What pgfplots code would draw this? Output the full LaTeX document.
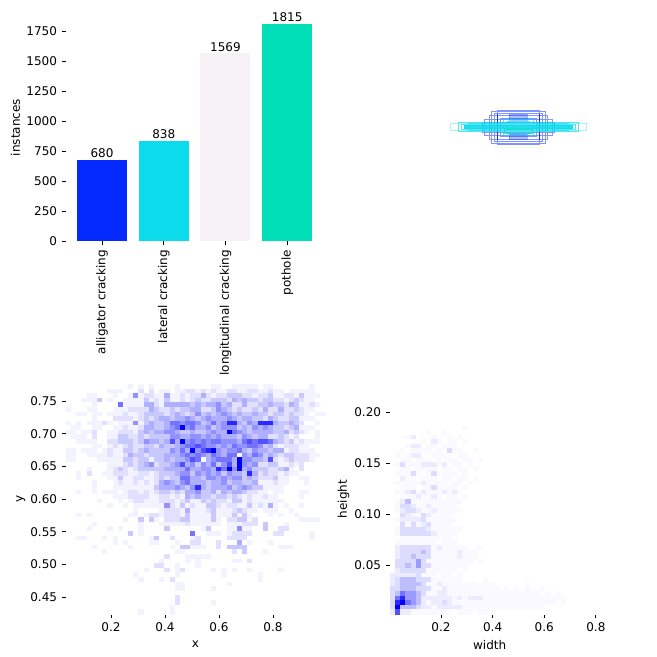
\documentclass[border=0pt]{standalone}
\usepackage{fontspec}
\setmainfont{DejaVu Sans}
\usepackage{pgfplots}
\usepackage{pgfplotstable}
\pgfplotsset{compat=1.18}

\definecolor{cA}{HTML}{042AFF}
\definecolor{cB}{HTML}{0BDBEB}
\definecolor{cC}{HTML}{F5F1F5}
\definecolor{cD}{HTML}{00DFB7}

\pgfplotsset{
  colormap={blues}{rgb255=(255,255,255) rgb255=(243,242,255) rgb255=(225,225,255)
    rgb255=(200,200,255) rgb255=(175,175,255) rgb255=(145,145,255) rgb255=(115,115,255)
    rgb255=(80,80,255) rgb255=(40,40,255) rgb255=(0,0,245)},
  colormap={paleblues}{rgb255=(255,255,255) rgb255=(250,249,255) rgb255=(237,236,255)
    rgb255=(220,220,255) rgb255=(190,190,255) rgb255=(155,155,255) rgb255=(115,115,255)
    rgb255=(80,80,255) rgb255=(40,40,255) rgb255=(0,0,245)},
  despined/.style={
    scale only axis,
    axis line style={draw=none},
    tick align=outside,
    xtick pos=bottom, ytick pos=left,
    major tick length=3.2pt,
    tick style={black, line width=0.7pt},
    every tick label/.append style={font=\fontsize{9}{11}\selectfont},
    label style={font=\fontsize{9}{11}\selectfont},
    /pgf/number format/assume math mode=true,
  },
  heat/.style={
    scatter, only marks, mark=square*, mark size=1.97pt,
    mark options={yscale=0.89},
    scatter/use mapped color={draw=mapped color, fill=mapped color, line width=0.05pt},
    point meta=explicit, point meta min=0, point meta max=9,
  },
}

% x,y histogram, rows top to bottom, 50 bins each way
\pgfplotstableread[header=false]{
0 0 0 0 0 0 0 0 0 0 0 0 1 0 1 0 1 0 0 0 0 1 0 0 0 0 0 0 1 1 0 0 1 1 1 1 1 0 1 1 0 0 0 0 0 0 0 1 0 0
0 0 0 0 0 0 0 0 1 1 1 0 0 0 2 0 2 0 1 1 0 1 1 2 2 1 2 1 2 1 1 2 2 1 1 2 2 1 1 2 1 1 0 1 1 1 1 1 0 0
0 0 0 0 1 1 0 0 0 1 0 0 1 5 1 2 2 1 1 4 1 1 2 1 2 2 4 2 1 2 2 3 3 3 2 2 1 2 2 3 1 1 2 2 1 3 1 1 1 0
0 0 0 1 1 1 3 0 1 0 0 1 1 1 1 3 1 2 1 3 1 1 2 1 2 3 2 2 3 3 3 2 4 3 4 3 3 2 3 3 2 2 1 2 3 2 1 1 0 0
0 0 0 0 0 1 0 0 0 0 6 1 1 1 1 4 4 2 1 4 4 4 4 4 3 4 3 4 4 5 3 4 2 2 4 2 2 3 3 4 3 3 2 4 3 1 1 2 1 0
1 0 0 0 1 1 0 0 0 1 1 1 2 2 2 2 4 3 2 2 3 2 3 3 4 4 2 2 3 5 4 3 2 3 2 2 3 2 4 2 2 4 2 2 3 2 1 1 0 0
0 0 1 1 0 1 1 0 1 1 1 2 1 1 2 3 3 3 3 2 3 4 3 2 3 5 3 4 3 4 5 4 3 4 3 3 4 3 3 2 3 3 2 3 2 2 1 0 1 1
0 0 0 0 0 1 0 0 0 2 2 2 2 1 2 3 2 3 4 4 3 4 4 5 4 3 4 5 4 4 4 5 4 3 4 4 3 3 2 4 3 2 2 3 3 1 1 1 0 0
1 0 1 0 1 1 1 2 1 0 1 1 1 5 1 3 4 3 3 4 6 6 5 6 6 5 3 4 6 4 5 8 8 4 3 5 4 8 8 8 4 3 3 4 3 2 0 0 1 0
0 1 1 0 0 1 1 0 0 1 1 2 1 1 2 4 4 3 3 4 5 6 9 5 6 4 4 5 3 4 5 5 5 3 4 3 5 4 5 4 3 3 2 3 4 1 1 1 0 0
1 1 0 1 1 2 0 0 1 1 2 2 2 1 3 4 3 4 4 5 5 4 3 3 4 3 3 4 5 4 4 9 6 5 4 3 4 4 4 4 3 3 4 2 3 2 1 0 1 0
0 1 1 1 0 2 0 0 1 1 3 3 2 2 3 2 3 3 3 3 5 5 4 4 5 5 4 5 4 5 4 4 4 3 5 4 3 4 4 2 2 3 2 1 2 0 0 0 1 0
0 0 1 1 1 1 0 0 2 2 3 3 3 2 3 5 4 4 3 4 7 4 9 5 6 5 6 5 6 6 5 5 5 4 6 7 6 7 7 6 4 3 2 3 1 2 1 1 1 0
0 0 0 0 0 1 1 0 1 2 1 2 3 2 2 3 3 2 4 3 3 4 5 6 6 7 6 5 5 4 5 4 6 5 5 6 6 5 3 4 2 1 2 2 2 1 1 0 0 0
1 1 0 1 1 1 0 1 2 1 1 3 3 2 3 4 3 3 3 3 5 4 6 4 9 5 7 8 9 5 4 5 5 6 4 3 5 4 4 3 4 4 1 2 2 1 1 1 0 0
1 1 0 0 1 1 1 1 2 1 1 2 4 3 3 2 3 3 3 4 4 4 5 6 5 6 5 4 6 5 4 6 6 0 5 4 6 5 3 4 3 2 3 3 2 2 2 1 1 0
1 1 0 0 0 0 1 1 1 1 1 3 3 2 3 3 1 3 3 4 3 4 4 5 7 6 0 4 5 6 6 6 4 9 5 5 4 4 3 7 2 1 2 3 2 2 2 1 0 0
0 0 0 0 0 0 0 0 1 1 1 2 3 2 3 4 5 2 3 3 4 5 7 4 5 3 5 4 6 3 5 7 4 9 5 4 5 2 2 3 3 1 1 2 1 2 0 0 0 0
0 0 0 0 1 0 0 0 1 2 3 2 1 2 3 3 3 3 3 4 4 4 4 6 4 4 5 5 4 8 6 9 5 9 4 5 3 3 3 2 2 3 4 1 0 2 0 0 0 0
0 0 1 0 2 0 0 1 1 2 2 2 1 1 2 2 1 2 3 3 3 4 5 5 3 5 4 5 4 5 3 5 4 4 3 8 4 2 3 2 2 1 2 1 1 0 0 0 0 0
0 0 1 0 0 0 0 0 1 1 3 1 1 2 2 1 1 2 3 2 3 3 6 6 4 4 3 5 5 4 5 4 5 5 3 4 3 2 2 2 3 1 1 0 0 1 1 0 0 0
0 0 0 0 0 1 0 0 0 1 2 1 1 2 1 2 1 2 4 5 4 3 5 6 4 4 4 3 4 4 5 3 4 4 3 3 4 1 1 1 2 1 1 0 0 0 1 0 0 0
0 0 0 0 0 1 0 0 0 1 1 1 1 1 1 1 1 3 4 4 4 5 4 3 5 8 4 3 4 4 4 5 3 4 5 4 3 3 1 1 1 1 0 0 0 0 0 0 0 0
0 0 1 0 0 1 0 1 1 1 0 1 2 2 1 2 1 2 3 3 2 3 2 4 4 5 3 3 4 2 4 3 4 4 3 2 2 1 1 0 1 1 0 0 0 1 1 0 0 0
0 0 0 0 0 0 0 0 0 1 1 1 2 2 2 2 1 1 2 2 1 2 1 4 3 4 3 3 2 3 3 2 3 2 1 2 1 1 2 1 1 0 0 0 0 1 0 0 0 0
0 0 0 0 0 0 1 0 0 0 1 0 1 2 2 1 1 1 2 2 2 1 2 3 1 1 3 2 3 2 2 1 3 3 1 2 1 1 1 1 1 1 0 0 0 0 0 0 0 0
0 0 0 0 0 0 0 0 1 0 0 1 0 1 1 1 1 1 1 5 2 1 3 1 2 1 1 3 3 2 1 2 2 1 1 3 1 2 1 4 1 0 1 0 0 1 0 0 0 0
0 0 0 0 0 0 0 0 0 0 0 0 0 1 0 0 0 0 1 2 2 2 1 4 1 1 1 2 3 1 1 1 2 3 2 1 1 0 1 1 1 0 0 1 0 0 0 0 0 0
0 0 1 0 1 0 0 0 0 0 0 0 1 1 0 1 2 2 1 2 2 2 1 3 1 1 1 1 3 1 1 1 3 1 3 1 0 0 0 1 0 1 0 0 1 0 0 0 0 0
0 0 0 0 0 0 0 0 0 0 0 1 0 0 3 0 3 1 0 2 2 2 3 3 1 1 1 1 3 1 0 2 2 3 3 1 2 0 0 0 0 0 0 0 0 1 1 1 1 0
0 0 0 0 0 1 0 0 0 0 0 0 0 0 1 0 0 0 1 1 1 1 1 2 1 1 1 1 1 1 0 1 1 1 2 2 2 0 3 0 0 0 1 0 0 0 0 0 0 0
0 0 0 0 1 0 0 0 1 0 1 0 0 0 1 0 0 0 0 3 0 0 0 0 0 0 1 3 0 0 0 1 1 5 1 1 0 0 3 0 0 2 2 0 0 0 0 0 0 0
0 0 0 0 0 0 0 0 0 0 0 0 3 0 1 0 0 0 0 0 0 0 0 0 6 0 0 1 1 1 0 1 2 2 2 2 0 0 0 0 2 2 0 0 0 0 0 1 0 0
0 0 1 1 0 0 0 1 0 1 0 0 0 0 0 0 1 3 0 0 2 0 0 0 1 2 0 0 0 0 0 2 2 2 2 0 0 0 0 0 0 0 0 0 0 0 0 1 0 0
0 0 0 0 0 0 0 0 0 1 0 1 0 0 0 0 1 1 0 0 0 1 0 0 2 2 0 0 0 2 0 0 0 4 0 1 0 0 0 1 0 0 0 0 0 0 0 0 0 0
0 0 0 0 0 1 0 0 0 0 0 0 1 0 0 0 0 0 0 0 1 0 3 3 1 1 1 0 0 2 0 3 3 3 3 0 0 0 0 0 0 1 1 1 0 0 0 0 0 0
0 0 0 0 0 0 0 1 0 0 0 0 0 0 0 0 0 0 0 0 0 1 1 0 0 0 0 0 0 0 0 0 2 0 3 0 0 0 1 0 0 0 0 0 0 0 0 0 0 0
0 0 0 0 0 0 0 0 0 0 0 0 0 0 0 0 0 0 0 2 0 0 0 1 1 1 1 1 0 0 0 0 0 0 0 0 0 0 0 0 0 0 0 0 0 0 0 0 0 0
0 0 0 0 0 0 0 0 0 0 0 0 0 0 0 0 0 0 1 0 0 0 0 1 0 1 0 0 0 0 0 0 1 1 0 2 0 0 0 0 0 0 0 0 0 0 0 0 0 0
0 0 0 0 0 0 0 0 0 0 0 0 0 0 0 0 0 2 2 0 0 1 0 0 0 1 0 0 0 0 0 0 0 0 0 0 0 0 0 0 0 0 0 0 0 0 0 0 0 0
0 0 0 0 0 0 0 0 0 0 0 0 0 0 0 1 0 0 0 2 0 1 2 0 0 0 0 0 1 0 1 0 1 0 0 1 0 0 0 0 0 1 0 0 0 0 0 0 0 0
0 0 0 0 0 0 0 0 0 0 0 0 0 1 0 0 0 0 0 0 0 1 0 0 0 0 0 0 0 0 1 0 0 0 0 0 0 1 0 0 0 0 0 0 0 0 0 0 0 0
0 0 0 0 0 0 0 0 0 0 0 0 0 0 1 0 0 0 1 0 2 0 0 0 0 0 0 0 0 0 0 0 0 0 0 0 0 1 0 0 0 0 0 0 0 0 0 0 0 0
0 0 0 0 0 0 0 0 0 0 0 0 0 0 0 0 0 0 0 0 0 1 1 0 0 0 0 0 0 0 0 1 0 0 0 0 0 0 0 0 0 0 0 0 0 0 0 0 0 0
0 0 0 0 0 0 0 0 0 0 0 0 0 0 0 0 0 0 0 0 0 1 1 0 0 0 0 0 1 0 0 0 0 0 0 0 0 0 0 0 0 0 0 0 0 0 0 0 0 0
0 0 0 0 0 0 0 0 0 0 0 0 0 0 0 0 0 0 0 0 0 0 0 0 0 0 0 0 0 0 0 0 0 0 0 0 0 0 0 0 0 0 0 0 0 0 0 0 0 0
0 0 0 0 0 0 0 0 0 0 0 0 0 0 0 0 0 0 0 0 0 2 0 0 0 0 0 0 0 0 0 0 0 0 0 0 0 0 0 0 0 0 0 0 0 0 0 0 0 0
0 0 0 0 0 0 0 0 0 0 0 0 0 0 0 0 0 0 0 0 0 2 0 0 0 0 0 0 1 0 0 0 0 0 0 0 0 0 0 0 0 0 0 0 0 0 0 0 0 0
0 0 0 0 0 0 0 0 0 0 0 0 0 0 0 0 0 0 0 0 1 0 0 0 0 0 0 0 0 0 0 0 0 0 0 0 0 0 0 0 0 0 0 0 0 0 0 0 0 0
0 0 0 0 0 0 0 0 0 0 0 0 0 0 1 0 0 0 0 0 1 0 0 0 0 0 0 0 0 0 0 0 0 0 0 0 0 0 0 0 0 0 0 0 0 0 0 0 0 0
}\xyhist

% width,height histogram, same layout
\pgfplotstableread[header=false]{
0 0 0 0 0 0 0 0 0 0 0 0 0 0 0 0 0 0 0 0 0 0 0 0 0 0 0 0 0 0 0 0 0 0 0 0 0 0 0 0 0 0 0 0 0 0 0 0 0 0
0 0 0 0 0 0 0 0 0 0 0 0 0 0 0 0 0 0 0 0 0 0 0 0 0 0 0 0 0 0 0 0 0 0 0 0 0 0 0 0 0 0 0 0 0 0 0 0 0 0
0 0 0 0 0 0 0 0 0 0 0 0 0 0 0 0 0 0 0 0 0 0 0 0 0 0 0 0 0 0 0 0 0 0 0 0 0 0 0 0 0 0 0 0 0 0 0 0 0 0
0 0 0 0 0 0 0 0 0 0 0 0 0 0 0 0 0 0 0 0 0 0 0 0 0 0 0 0 0 0 0 0 0 0 0 0 0 0 0 0 0 0 0 0 0 0 0 0 0 0
0 0 0 0 0 0 0 0 0 0 0 0 0 0 0 0 0 0 0 0 0 0 0 0 0 0 0 0 0 0 0 0 0 0 0 0 0 0 0 0 0 0 0 0 0 0 0 0 0 0
0 0 0 0 0 0 0 0 0 0 0 0 0 0 0 0 0 0 0 0 0 0 0 0 0 0 0 0 0 0 0 0 0 0 0 0 0 0 0 0 0 0 0 0 0 0 0 0 0 0
0 0 0 0 0 0 0 0 0 0 0 0 0 0 0 0 0 0 0 0 0 0 0 0 0 0 0 0 0 0 0 0 0 0 0 0 0 0 0 0 0 0 0 0 0 0 0 0 0 0
0 0 0 0 0 0 0 0 0 0 0 0 0 0 0 0 0 0 0 0 0 0 0 0 0 0 0 0 0 0 0 0 0 0 0 0 0 0 0 0 0 0 0 0 0 0 0 0 0 0
0 0 0 0 0 0 0 0 0 0 0 0 0 0 0 0 0 0 0 0 0 0 0 0 0 0 0 0 0 0 0 0 0 0 0 0 0 0 0 0 0 0 0 0 0 0 0 0 0 0
0 0 0 0 0 0 0 0 0 0 0 0 0 0 1 0 0 0 0 0 0 0 0 0 0 0 0 0 0 0 0 0 0 0 0 0 0 0 0 0 0 0 0 0 0 0 0 0 0 0
0 0 0 0 0 0 0 1 0 0 1 0 0 0 0 0 0 0 0 0 0 0 0 0 0 0 0 0 0 0 0 0 0 0 0 0 0 0 0 0 0 0 0 0 0 0 0 0 0 0
0 0 0 1 2 0 0 0 1 0 0 1 0 1 0 0 0 0 0 0 0 0 0 0 0 0 0 0 0 0 0 0 0 0 0 0 0 0 0 0 0 0 0 0 0 0 0 0 0 0
0 0 0 0 0 0 1 0 2 1 0 1 1 0 1 0 0 0 0 0 0 0 0 0 0 0 0 0 0 0 0 0 0 0 0 0 0 0 0 0 0 0 0 0 0 0 0 0 0 0
0 0 0 1 2 2 0 1 1 0 1 1 1 0 0 0 0 0 0 0 0 0 0 0 0 0 0 0 0 0 0 0 0 0 0 0 0 0 0 0 0 0 0 0 0 0 0 0 0 0
0 0 1 0 1 1 1 1 0 1 0 3 1 1 0 0 1 0 0 0 0 0 0 0 0 0 0 0 0 0 0 0 0 0 0 0 0 0 0 0 0 0 0 0 0 0 0 0 0 0
0 1 0 1 2 2 0 0 1 1 1 0 0 1 1 0 0 0 0 0 0 0 0 0 0 0 0 0 0 0 0 0 0 0 0 0 0 0 0 0 0 0 0 0 0 0 0 0 0 0
0 0 1 1 0 1 1 1 0 1 0 1 1 0 1 1 0 1 0 0 0 0 0 0 0 0 0 0 0 0 0 0 0 0 0 0 0 0 0 0 0 0 0 0 0 0 0 0 0 0
0 1 3 1 1 1 2 2 2 1 2 0 1 1 0 1 0 0 0 0 0 0 0 0 0 0 0 0 0 0 0 0 0 0 0 0 0 0 0 0 0 0 0 0 0 0 0 0 0 0
0 0 1 1 0 1 1 1 1 0 1 1 0 1 1 0 1 0 0 0 0 0 0 0 0 0 0 0 0 0 0 0 0 0 0 0 0 0 0 0 0 0 0 0 0 0 0 0 0 0
0 1 1 1 3 1 0 1 3 1 1 1 1 0 1 0 0 0 0 0 0 0 0 0 0 0 0 0 0 0 0 0 0 0 0 0 0 0 0 0 0 0 0 0 0 0 0 0 0 0
0 0 2 1 1 0 1 1 1 0 1 1 0 1 1 0 1 0 0 0 0 0 0 0 0 0 0 0 0 0 0 0 0 0 0 0 0 0 0 0 0 0 0 0 0 0 0 0 0 0
0 1 1 1 1 1 2 1 1 1 1 0 1 1 0 1 0 0 0 0 0 0 0 0 0 0 0 0 0 0 0 0 0 0 0 0 0 0 0 0 0 0 0 0 0 0 0 0 0 0
0 0 1 1 1 0 1 1 3 1 1 1 1 0 1 0 0 0 0 0 0 0 0 0 0 0 0 0 0 0 0 0 0 0 0 0 0 0 0 0 0 0 0 0 0 0 0 0 0 0
0 1 1 2 3 1 2 1 1 1 2 1 2 1 0 0 0 0 0 0 0 0 0 0 0 0 0 0 0 0 0 0 0 0 0 0 0 0 0 0 0 0 0 0 0 0 0 0 0 0
0 0 1 1 1 2 1 1 2 1 0 1 1 0 1 0 0 0 0 0 0 0 0 0 0 0 0 0 0 0 0 0 0 0 0 0 0 0 0 0 0 0 0 0 0 0 0 0 0 0
0 1 2 4 1 1 1 1 1 1 1 1 1 1 0 0 0 0 0 0 0 0 0 0 0 0 0 0 0 0 0 0 0 0 0 0 0 0 0 0 0 0 0 0 0 0 0 0 0 0
0 1 3 3 2 1 1 2 1 1 1 1 1 0 0 0 0 0 0 0 0 0 0 0 0 0 0 0 0 0 0 0 0 0 0 0 0 0 0 0 0 0 0 0 0 0 0 0 0 0
0 1 2 3 3 2 1 1 2 1 1 1 1 1 0 0 0 0 0 0 0 0 0 0 0 0 0 0 0 0 0 0 0 0 0 0 0 0 0 0 0 0 0 0 0 0 0 0 0 0
0 0 3 2 1 1 3 2 1 1 1 1 0 0 0 0 0 0 0 0 0 0 0 0 0 0 0 0 0 0 0 0 0 0 0 0 0 0 0 0 0 0 0 0 0 0 0 0 0 0
0 1 2 2 2 2 3 1 1 1 1 1 1 0 0 0 0 0 0 0 0 0 0 0 0 0 0 0 0 0 0 0 0 0 0 0 0 0 0 0 0 0 0 0 0 0 0 0 0 0
0 0 3 1 3 1 2 3 1 1 1 1 0 0 0 0 0 0 0 0 0 0 0 0 0 0 0 0 0 0 0 0 0 0 0 0 0 0 0 0 0 0 0 0 0 0 0 0 0 0
0 1 3 3 3 3 3 2 1 1 1 1 1 1 0 0 0 0 0 0 0 0 0 0 0 0 0 0 0 0 0 0 0 0 0 0 0 0 0 0 0 0 0 0 0 0 0 0 0 0
0 1 3 3 3 3 3 3 2 1 1 1 1 0 0 0 0 0 0 0 0 0 0 0 0 0 0 0 0 0 0 0 0 0 0 0 0 0 0 0 0 0 0 0 0 0 0 0 0 0
0 0 1 1 1 1 1 1 1 1 1 1 0 0 0 0 0 0 0 0 0 0 0 0 0 0 0 0 0 0 0 0 0 0 0 0 0 0 0 0 0 0 0 0 0 0 0 0 0 0
0 1 1 1 1 1 1 1 1 0 1 1 1 0 0 0 0 0 0 0 0 0 0 0 0 0 0 0 0 0 0 0 0 0 0 0 0 0 0 0 0 0 0 0 0 0 0 0 0 0
0 2 3 3 3 3 3 3 1 2 1 1 1 1 1 0 0 1 0 0 0 0 0 0 0 0 0 0 0 0 0 0 0 0 0 0 0 0 0 0 0 0 0 0 0 0 0 0 0 0
0 2 3 3 3 3 4 3 1 1 1 1 1 2 1 1 1 0 0 0 0 0 0 0 0 0 0 0 0 0 0 0 0 0 0 0 0 0 0 0 0 0 0 0 0 0 0 0 0 0
0 2 3 3 4 3 3 3 1 1 1 1 1 2 1 1 1 0 0 0 0 0 0 0 0 0 0 0 0 0 0 0 0 0 0 0 0 0 0 0 0 0 0 0 0 0 0 0 0 0
0 3 3 3 3 5 3 1 1 1 1 1 1 1 1 1 0 1 0 0 0 0 0 0 0 0 0 0 0 0 0 0 0 0 0 0 0 0 0 0 0 0 0 0 0 0 0 0 0 0
0 3 3 4 3 5 3 3 1 1 1 1 1 1 1 0 0 0 0 0 0 0 0 0 0 0 0 0 0 0 0 0 0 0 0 0 0 0 0 0 0 0 0 0 0 0 0 0 0 0
0 2 3 3 3 3 3 1 1 1 1 1 1 0 1 0 0 0 0 0 0 0 0 0 0 0 0 0 0 0 0 0 0 0 0 0 0 0 0 0 0 0 0 0 0 0 0 0 0 0
2 2 2 2 2 3 1 1 1 0 1 1 0 1 0 0 0 0 0 0 0 0 0 0 0 0 0 0 0 0 0 0 0 0 0 0 0 0 0 0 0 0 0 0 0 0 0 0 0 0
2 3 4 4 4 3 3 3 1 1 1 1 1 1 0 0 0 0 1 0 0 0 0 0 0 0 0 0 0 0 0 0 0 0 0 0 0 0 0 0 0 0 0 0 0 0 0 0 0 0
2 3 4 4 4 4 3 1 1 2 1 1 1 1 1 1 1 0 1 1 0 0 0 0 0 0 1 0 0 0 0 0 0 0 0 0 0 0 0 0 0 0 0 0 0 0 0 0 0 0
3 3 4 4 4 3 3 3 1 1 2 1 1 1 1 1 1 1 1 1 1 0 1 0 1 0 1 0 0 1 0 0 0 0 0 0 0 0 0 0 0 0 0 0 0 0 0 0 0 0
3 4 6 5 5 4 3 1 1 2 2 1 1 1 1 1 1 1 1 1 1 1 1 1 1 1 1 1 1 0 1 0 1 0 0 0 0 0 0 0 0 0 0 0 0 0 0 0 0 0
3 6 8 5 5 4 2 2 2 2 2 2 1 2 1 2 2 2 1 1 1 1 1 1 1 1 1 1 1 1 1 1 1 1 0 0 0 0 0 0 0 0 0 0 0 0 0 0 0 0
3 8 9 6 5 4 2 1 2 2 3 2 1 1 1 1 1 1 1 1 1 1 1 1 1 1 1 1 1 1 1 1 0 1 0 0 0 0 0 0 0 0 0 0 0 0 0 0 0 0
3 9 4 4 4 3 2 2 1 2 2 2 2 2 1 1 1 1 1 1 1 1 1 1 1 1 1 1 1 1 0 0 0 0 0 0 0 0 0 0 0 0 0 0 0 0 0 0 0 0
2 7 2 2 1 1 1 1 1 1 1 1 0 1 1 1 0 1 1 0 0 0 0 0 0 0 0 0 0 0 0 0 0 0 0 0 0 0 0 0 0 0 0 0 0 0 0 0 0 0
}\whhist

\begin{document}
\begin{tikzpicture}
\path[use as bounding box] (0,0) rectangle (492.75pt,492.75pt);

% instances per class
\begin{axis}[despined, at={(49.5pt,312pt)}, anchor=south west,
    width=192.75pt, height=170.25pt,
    ybar, bar width=37.5pt, bar shift=0pt,
    xmin=-0.583, xmax=3.58, ymin=0, ymax=1896,
    ytick={0,250,...,1750}, xtick={0,1,2,3},
    xticklabels={alligator cracking, lateral cracking, longitudinal cracking, pothole},
    x tick label style={rotate=90, anchor=east},
    ylabel={instances},
    ylabel style={at={(axis description cs:-0.16,0.5)}, anchor=south},
    clip=false,
    nodes near coords,
    every node near coord/.append style={font=\fontsize{9}{11}\selectfont, text=black, inner sep=1pt},
    point meta=y,
    /pgf/number format/fixed, /pgf/number format/1000 sep={},
]
\addplot[fill=cA, draw=none] coordinates {(0,680)};
\addplot[fill=cB, draw=none] coordinates {(1,838)};
\addplot[fill=cC, draw=none] coordinates {(2,1569)};
\addplot[fill=cD, draw=none] coordinates {(3,1815)};
\end{axis}

% label boxes, pixel offsets from the centre
\begin{axis}[hide axis, scale only axis, at={(321pt,367.5pt)}, anchor=south west,
    width=135pt, height=60pt, xmin=-90, xmax=90, ymin=-40, ymax=40,
    unbounded coords=jump]
\addplot[no marks, draw=yellow!60, opacity=0.25, line width=0.5pt] coordinates {(-23,-20)(23,-20)(23,20)(-23,20)(-23,-20)};
\addplot[no marks, draw=cA, opacity=0.5, line width=0.6pt] table[row sep=crcr] {
-27 -16\\ 27 -16\\ 27 16\\ -27 16\\ -27 -16\\ nan nan\\
-21 -17\\ 21 -17\\ 21 17\\ -21 17\\ -21 -17\\ nan nan\\
-24 -14\\ 24 -14\\ 24 14\\ -24 14\\ -24 -14\\ nan nan\\
-34 -8\\ 34 -8\\ 34 8\\ -34 8\\ -34 -8\\ nan nan\\
-29 -12\\ 29 -12\\ 29 12\\ -29 12\\ -29 -12\\ nan nan\\
-18 -9\\ 18 -9\\ 18 9\\ -18 9\\ -18 -9\\ nan nan\\
-36 -5\\ 36 -5\\ 36 5\\ -36 5\\ -36 -5\\
};
\addplot[no marks, draw=cA, opacity=0.3, fill=cA, fill opacity=0.3, line width=0.5pt] coordinates {(-9,-12.5)(9,-12.5)(9,-7)(-9,-7)(-9,-12.5)};
\addplot[no marks, draw=cA, opacity=0.3, fill=cA, fill opacity=0.3, line width=0.5pt] coordinates {(-9,7)(9,7)(9,12.5)(-9,12.5)(-9,7)};
\addplot[no marks, draw=cA, opacity=0.9, line width=0.7pt] coordinates {(-21,-13)(-21,13)};
\addplot[no marks, draw=cA, opacity=0.9, line width=0.7pt] coordinates {(21,-13)(21,13)};
\addplot[no marks, draw=cB, opacity=0.35, line width=0.6pt] coordinates {(-68,-3.7)(68,-3.7)(68,3.7)(-68,3.7)(-68,-3.7)};
\addplot[no marks, draw=cB, opacity=0.7, line width=0.6pt] table[row sep=crcr] {
-60 -4.3\\ 60 -4.3\\ 60 4.3\\ -60 4.3\\ -60 -4.3\\ nan nan\\
-57 -2.8\\ 57 -2.8\\ 57 2.8\\ -57 2.8\\ -57 -2.8\\ nan nan\\
-50 -3.4\\ 50 -3.4\\ 50 3.4\\ -50 3.4\\ -50 -3.4\\ nan nan\\
-15 -8\\ 15 -8\\ 15 8\\ -15 8\\ -15 -8\\ nan nan\\
-11 -6\\ 11 -6\\ 11 6\\ -11 6\\ -11 -6\\ nan nan\\
-6 -4\\ 6 -4\\ 6 4\\ -6 4\\ -6 -4\\
};
\addplot[no marks, draw=cB, fill=cB, fill opacity=0.6, opacity=0.9, line width=0.4pt] coordinates {(-54,-1.6)(54,-1.6)(54,1.6)(-54,1.6)(-54,-1.6)};
\addplot[no marks, draw=cD, opacity=0.7, line width=0.5pt] coordinates {(-14,-6)(14,-6)(14,-2.5)(-14,-2.5)(-14,-6)};
\end{axis}

% x against y
\begin{axis}[despined, at={(49.5pt,32.25pt)}, anchor=south west,
    width=194.25pt, height=172.5pt, enlargelimits=false, clip=false,
    xmin=0.0333, xmax=0.9926, ymin=0.4243, ymax=0.776,
    xtick={0.2,0.4,0.6,0.8}, ytick={0.45,0.5,...,0.75},
    xlabel={x}, ylabel={y},
    xticklabel style={/pgf/number format/fixed, /pgf/number format/precision=1, /pgf/number format/fixed zerofill},
    yticklabel style={/pgf/number format/fixed, /pgf/number format/precision=2, /pgf/number format/fixed zerofill},
    ylabel style={at={(axis description cs:-0.139,0.5)}, anchor=south},
    xlabel style={at={(axis description cs:0.5,-0.095)}, anchor=north},
]
\pgfplotsinvokeforeach{0,1,...,49}{
  \addplot[heat, colormap name=blues] table[x expr={0.0333+(#1+0.5)*0.01919}, y expr={0.776-(\coordindex+0.5)*0.00703}, meta index=#1] {\xyhist};
}
\end{axis}

% width against height
\begin{axis}[despined, at={(292.5pt,32.25pt)}, anchor=south west,
    width=194.25pt, height=172.5pt, enlargelimits=false, clip=false,
    xmin=0.0023, xmax=1.006, ymin=0.0018, ymax=0.2281,
    xtick={0.2,0.4,0.6,0.8}, ytick={0.05,0.1,0.15,0.2},
    xlabel={width}, ylabel={height},
    xticklabel style={/pgf/number format/fixed, /pgf/number format/precision=1, /pgf/number format/fixed zerofill},
    yticklabel style={/pgf/number format/fixed, /pgf/number format/precision=2, /pgf/number format/fixed zerofill},
    ylabel style={at={(axis description cs:-0.139,0.5)}, anchor=south},
    xlabel style={at={(axis description cs:0.385,-0.095)}, anchor=north},
]
\pgfplotsinvokeforeach{0,1,...,49}{
  \addplot[heat, colormap name=paleblues] table[x expr={0.0023+(#1+0.5)*0.02008}, y expr={0.2281-(\coordindex+0.5)*0.004528}, meta index=#1] {\whhist};
}
\end{axis}
\end{tikzpicture}
\end{document}
